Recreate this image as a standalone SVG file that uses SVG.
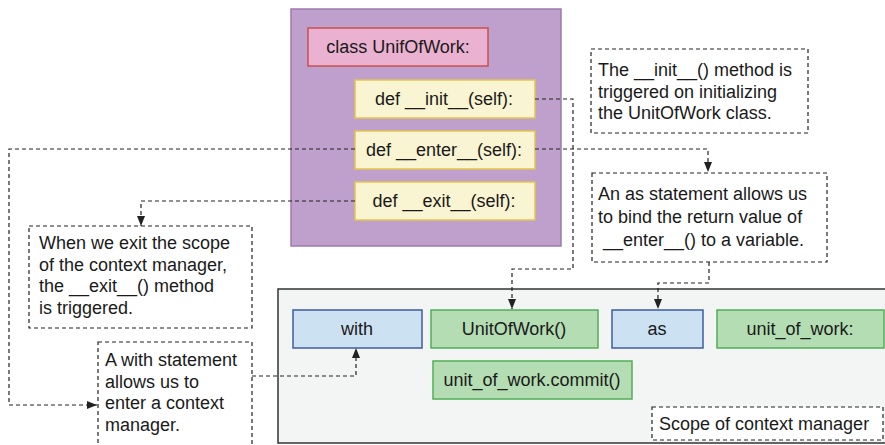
<svg xmlns="http://www.w3.org/2000/svg" width="885" height="445" viewBox="0 0 885 445">
<style>
text{font-family:"Liberation Sans",Arial,sans-serif;font-size:18px;fill:#1a1a1a}
.c{text-anchor:middle}
.note{fill:#fff;stroke:#222;stroke-width:1.2;stroke-dasharray:4,3}
.yel{fill:#f9f4d2;stroke:#e2c54e;stroke-width:1.5}
.blue{fill:#cce1f2;stroke:#3f5c9e;stroke-width:1.5}
.green{fill:#b4ddb3;stroke:#52ae57;stroke-width:1.5}
.conn{fill:none;stroke:#222;stroke-width:1.2;stroke-dasharray:4,3}
</style>
<defs>
<marker id="ah" viewBox="0 0 10 8" refX="10" refY="4" markerWidth="10" markerHeight="8" markerUnits="userSpaceOnUse" orient="auto">
<path d="M0,0 L10,4 L0,8 z" fill="#222"/>
</marker>
</defs>
<g id="scope-area">
<rect x="278" y="289" width="612" height="154" fill="#f3f5f5" stroke="#333" stroke-width="1.5"/>
</g>
<g id="class-container">
<rect x="291" y="9" width="270" height="237" fill="#bf9fcb" stroke="#9d7bad" stroke-width="1.5"/>
</g>
<g id="class-decl">
<rect x="308" y="28" width="180" height="38" fill="#ebb1d0" stroke="#c9504f" stroke-width="1.5"/>
<text x="398" y="53" class="c">class UnifOfWork:</text>
</g>
<g id="init">
<rect x="355" y="80" width="180" height="38" class="yel"/>
<text x="444" y="105" class="c">def __init__(self):</text>
</g>
<g id="enter">
<rect x="355" y="131" width="180" height="38" class="yel"/>
<text x="444" y="156" class="c">def __enter__(self):</text>
</g>
<g id="exit">
<rect x="355" y="182" width="180" height="38" class="yel"/>
<text x="444" y="207" class="c">def __exit__(self):</text>
</g>
<g id="note-init">
<rect x="591" y="49" width="217" height="84" class="note"/>
<text x="598" y="76">The __init__() method is</text>
<text x="598" y="98">triggered on initializing</text>
<text x="598" y="119">the UnitOfWork class.</text>
</g>
<g id="note-as">
<rect x="592" y="173" width="235" height="89" class="note"/>
<text x="598" y="200">An as statement allows us</text>
<text x="598" y="223">to bind the return value of</text>
<text x="603" y="246">__enter__() to a variable.</text>
</g>
<g id="note-exit">
<rect x="29" y="226" width="223" height="102" class="note"/>
<text x="39" y="249">When we exit the scope</text>
<text x="39" y="271">of the context manager,</text>
<text x="39" y="292">the __exit__() method</text>
<text x="39" y="314">is triggered.</text>
</g>
<g id="note-with">
<rect x="98" y="342" width="154" height="110" class="note"/>
<text x="105" y="366">A with statement</text>
<text x="105" y="388">allows us to</text>
<text x="105" y="409">enter a context</text>
<text x="105" y="431">manager.</text>
</g>
<g id="kw-with">
<rect x="293" y="310" width="129" height="38" class="blue"/>
<text x="357" y="335" class="c">with</text>
</g>
<g id="uow-call">
<rect x="431" y="310" width="167" height="38" class="green"/>
<text x="514" y="335" class="c">UnitOfWork()</text>
</g>
<g id="kw-as">
<rect x="612" y="310" width="91" height="38" class="blue"/>
<text x="657" y="335" class="c">as</text>
</g>
<g id="var-uow">
<rect x="717" y="310" width="167" height="38" class="green"/>
<text x="800" y="335" class="c">unit_of_work:</text>
</g>
<g id="commit">
<rect x="433" y="361" width="199" height="38" class="green"/>
<text x="532" y="386" class="c">unit_of_work.commit()</text>
</g>
<g id="scope-label">
<rect x="652" y="407" width="231" height="33" class="note"/>
<text x="659" y="430">Scope of context manager</text>
</g>
<g id="connectors">
<path d="M535,99 H573 V269 H512 V309" class="conn" marker-end="url(#ah)"/>
<path d="M535,149 H708 V172" class="conn" marker-end="url(#ah)"/>
<path d="M709,262 V283 H658 V309" class="conn" marker-end="url(#ah)"/>
<path d="M355,149 H9 V405 H97" class="conn" marker-end="url(#ah)"/>
<path d="M355,201 H141 V226" class="conn" marker-end="url(#ah)"/>
<path d="M252,376 H356 V348" class="conn" marker-end="url(#ah)"/>
</g>
</svg>
